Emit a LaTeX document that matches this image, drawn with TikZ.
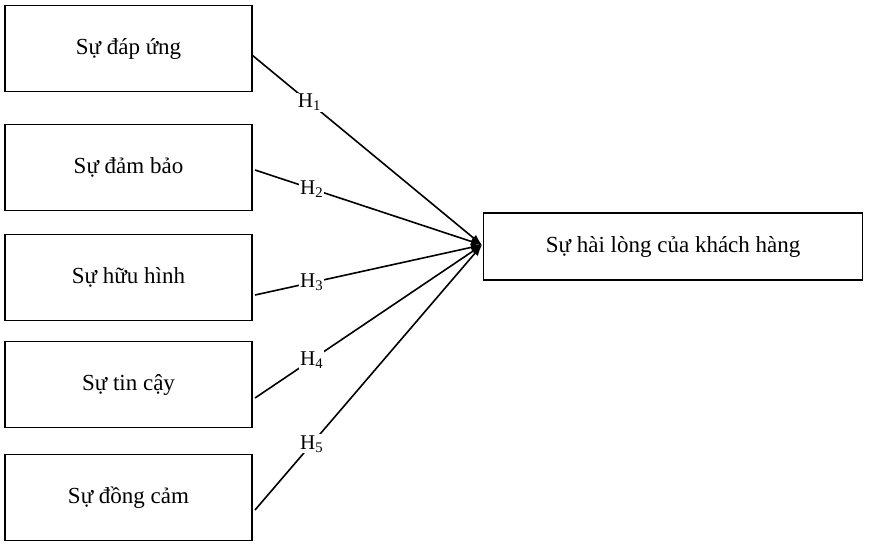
\documentclass[tikz,border=0pt]{standalone}
\usetikzlibrary{arrows.meta}
\usepackage{fontspec}
\setmainfont{Liberation Serif}
\begin{document}
\begin{tikzpicture}[x=1pt,y=-1pt,
 box/.style={draw,line width=1.2pt,minimum width=247pt,minimum height=86pt,font=\fontsize{23}{26}\selectfont},
 lab/.style={fill=white,inner sep=1pt,font=\fontsize{21}{24}\selectfont},
 arr/.style={line width=1.6pt,-{Latex[length=11pt,width=8pt]}}]
\useasboundingbox (0,0) rectangle (877,544);
\node[box] (b1) at (128.5,48.5) {Sự đáp ứng};
\node[box] (b2) at (128.5,167.5) {Sự đảm bảo};
\node[box] (b3) at (128.5,277.5) {Sự hữu hình};
\node[box] (b4) at (128.5,384.5) {Sự tin cậy};
\node[box] (b5) at (128.5,497.5) {Sự đồng cảm};
\node[box,minimum width=379pt,minimum height=67pt,anchor=west] (t) at (483,246.5) {Sự hài lòng của khách hàng};
\coordinate (e1) at (252,55);
\coordinate (e2) at (255,170);
\coordinate (e3) at (255,295);
\coordinate (e4) at (255,398);
\coordinate (e5) at (255,510);
\coordinate (p) at (482,245);
\draw[arr] (e1) -- (p) node[lab,pos=0.25] (h1) {H\textsubscript{1}};
\draw[arr] (e2) -- (p) node[lab,pos=0.25] (h2) {H\textsubscript{2}};
\draw[arr] (e3) -- (p) node[lab,pos=0.25] (h3) {H\textsubscript{3}};
\draw[arr] (e4) -- (p) node[lab,pos=0.25] (h4) {H\textsubscript{4}};
\draw[arr] (e5) -- (p) node[lab,pos=0.25] (h5) {H\textsubscript{5}};
\end{tikzpicture}
\end{document}
